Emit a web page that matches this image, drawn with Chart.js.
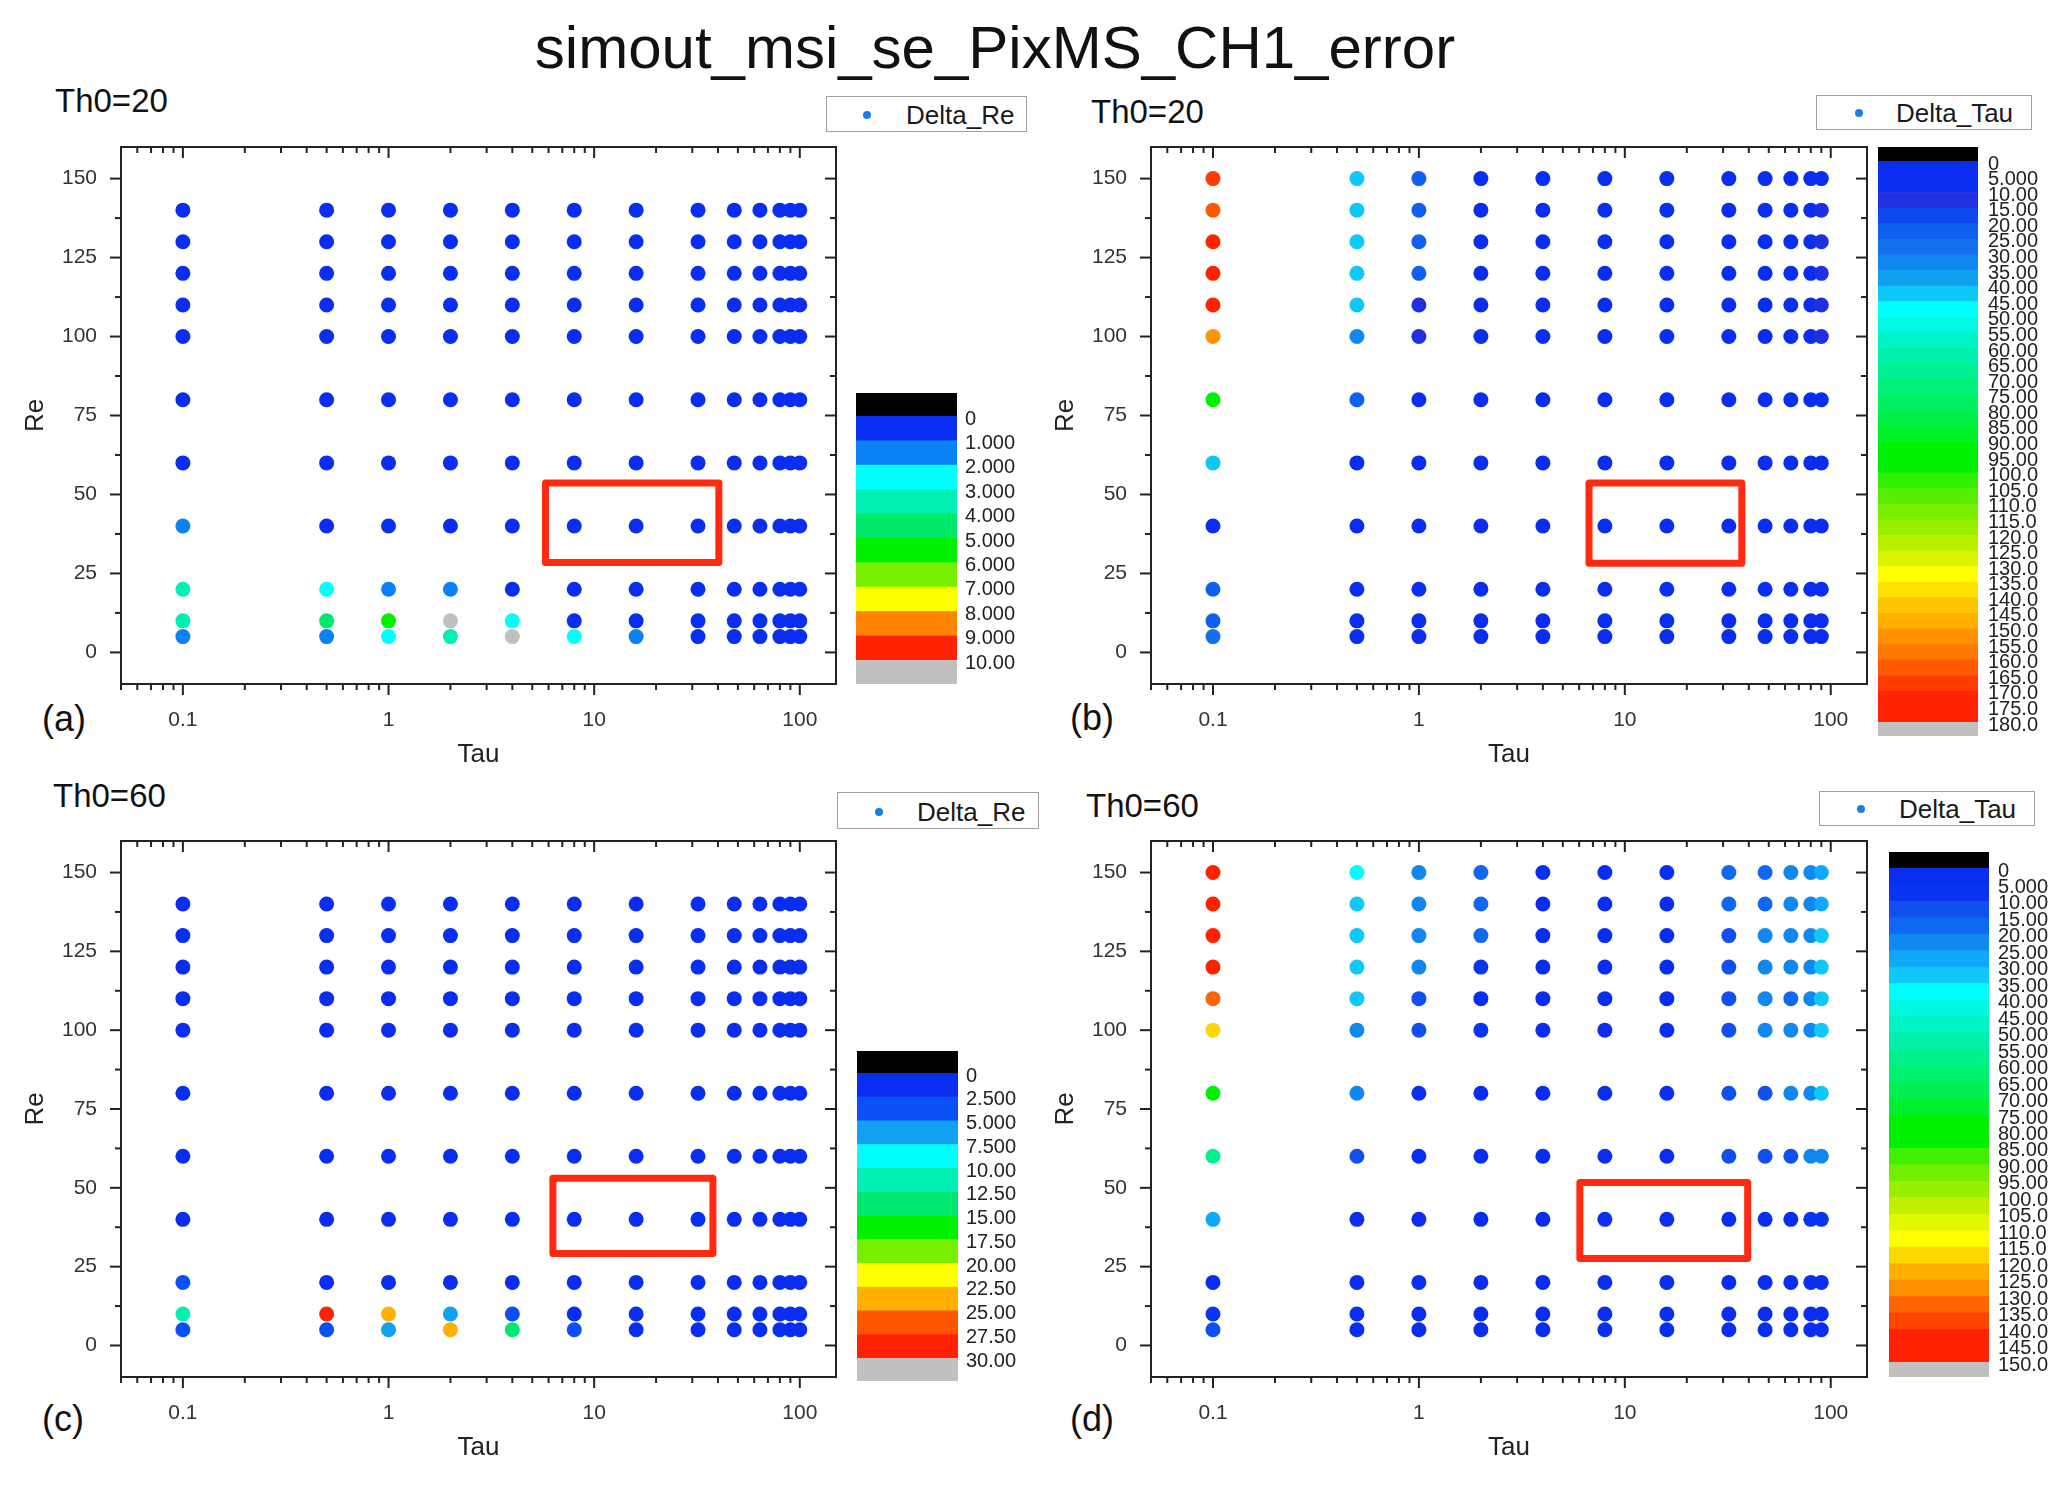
<!DOCTYPE html>
<html><head><meta charset="utf-8">
<script src="https://cdn.jsdelivr.net/npm/chart.js@4.4.0/dist/chart.umd.min.js"></script>
<style>
html,body{margin:0;padding:0;background:#fff;}
#root{position:relative;width:2067px;height:1488px;overflow:hidden;font-family:"Liberation Sans",Arial,sans-serif;color:#111;}
canvas{position:absolute;}
.t{position:absolute;white-space:nowrap;}
.legend{position:absolute;border:1.5px solid #a0a0a0;background:#fff;box-sizing:border-box;}
.legend .dot{position:absolute;width:8px;height:8px;border-radius:50%;background:#1a7fe8;}
.legend .lab{position:absolute;font-size:26px;line-height:26px;color:#1a1a1a;}
</style></head>
<body><div id="root">
<div class="t" style="left:0;width:1990px;text-align:center;top:18px;font-size:60px;line-height:60px;">simout_msi_se_PixMS_CH1_error</div>
<div class="t" style="left:55px;top:84px;font-size:33px;line-height:33px;">Th0=20</div>
<div class="t" style="left:1091px;top:95px;font-size:33px;line-height:33px;">Th0=20</div>
<div class="t" style="left:53px;top:779px;font-size:33px;line-height:33px;">Th0=60</div>
<div class="t" style="left:1086px;top:789px;font-size:33px;line-height:33px;">Th0=60</div>
<div class="t" style="left:42px;top:701px;font-size:36px;line-height:36px;">(a)</div>
<div class="t" style="left:1070px;top:700px;font-size:36px;line-height:36px;">(b)</div>
<div class="t" style="left:42px;top:1401px;font-size:36px;line-height:36px;">(c)</div>
<div class="t" style="left:1070px;top:1401px;font-size:36px;line-height:36px;">(d)</div>
<div class="legend" style="left:826px;top:96px;width:201px;height:36px;"><div class="dot" style="left:36px;top:14px;"></div><div class="lab" style="left:79px;top:5px;">Delta_Re</div></div>
<div class="legend" style="left:1816px;top:95px;width:216px;height:35px;"><div class="dot" style="left:38px;top:13px;"></div><div class="lab" style="left:79px;top:4px;">Delta_Tau</div></div>
<div class="legend" style="left:837px;top:792px;width:202px;height:37px;"><div class="dot" style="left:37px;top:15px;"></div><div class="lab" style="left:79px;top:6px;">Delta_Re</div></div>
<div class="legend" style="left:1819px;top:791px;width:216px;height:35px;"><div class="dot" style="left:37px;top:13px;"></div><div class="lab" style="left:79px;top:4px;">Delta_Tau</div></div>
<canvas id="cA"></canvas><canvas id="cB"></canvas><canvas id="cC"></canvas><canvas id="cD"></canvas>
</div>
<script>
// ---------------- data ----------------
const tauRe = [0.1, 0.5, 1, 2, 4, 8, 16, 32, 48, 64, 80, 90, 100];
const reRe = [5, 10, 20, 40, 60, 80, 100, 110, 120, 130, 140];
const tauTau = [0.1, 0.5, 1, 2, 4, 8, 16, 32, 48, 64, 80, 90];
const reTau = [5, 10, 20, 40, 60, 80, 100, 110, 120, 130, 140, 150];

// rows follow reRe, columns follow tauRe
const deltaReTh20 = [
  [1.5, 1.5, 2.5, 3.5, 11.0, 2.5, 1.5, 0.5, 0.5, 0.5, 0.5, 0.5, 0.5],
  [3.5, 4.5, 5.5, 11.0, 2.5, 0.5, 0.5, 0.5, 0.5, 0.5, 0.5, 0.5, 0.5],
  [3.5, 2.5, 1.5, 1.5, 0.5, 0.5, 0.5, 0.5, 0.5, 0.5, 0.5, 0.5, 0.5],
  [1.5, 0.5, 0.5, 0.5, 0.5, 0.5, 0.5, 0.5, 0.5, 0.5, 0.5, 0.5, 0.5],
  [0.5, 0.5, 0.5, 0.5, 0.5, 0.5, 0.5, 0.5, 0.5, 0.5, 0.5, 0.5, 0.5],
  [0.5, 0.5, 0.5, 0.5, 0.5, 0.5, 0.5, 0.5, 0.5, 0.5, 0.5, 0.5, 0.5],
  [0.5, 0.5, 0.5, 0.5, 0.5, 0.5, 0.5, 0.5, 0.5, 0.5, 0.5, 0.5, 0.5],
  [0.5, 0.5, 0.5, 0.5, 0.5, 0.5, 0.5, 0.5, 0.5, 0.5, 0.5, 0.5, 0.5],
  [0.5, 0.5, 0.5, 0.5, 0.5, 0.5, 0.5, 0.5, 0.5, 0.5, 0.5, 0.5, 0.5],
  [0.5, 0.5, 0.5, 0.5, 0.5, 0.5, 0.5, 0.5, 0.5, 0.5, 0.5, 0.5, 0.5],
  [0.5, 0.5, 0.5, 0.5, 0.5, 0.5, 0.5, 0.5, 0.5, 0.5, 0.5, 0.5, 0.5]
];
const deltaReTh60 = [
  [4, 4, 6, 23.5, 13, 4, 1.5, 1, 1, 1, 1, 1, 1],
  [11, 28.5, 23.5, 6, 4, 1, 1, 1, 1, 1, 1, 1, 1],
  [4, 1, 1, 1, 1, 1, 1, 1, 1, 1, 1, 1, 1],
  [1, 1, 1, 1, 1, 1, 1, 1, 1, 1, 1, 1, 1],
  [1, 1, 1, 1, 1, 1, 1, 1, 1, 1, 1, 1, 1],
  [1, 1, 1, 1, 1, 1, 1, 1, 1, 1, 1, 1, 1],
  [1, 1, 1, 1, 1, 1, 1, 1, 1, 1, 1, 1, 1],
  [1, 1, 1, 1, 1, 1, 1, 1, 1, 1, 1, 1, 1],
  [1, 1, 1, 1, 1, 1, 1, 1, 1, 1, 1, 1, 1],
  [1, 1, 1, 1, 1, 1, 1, 1, 1, 1, 1, 1, 1],
  [1, 1, 1, 1, 1, 1, 1, 1, 1, 1, 1, 1, 1]
];
// rows follow reTau, columns follow tauTau
const deltaTauTh20 = [
  [25, 2, 2, 2, 2, 2, 2, 2, 2, 2, 2, 2],
  [20, 2, 2, 2, 2, 2, 2, 2, 2, 2, 2, 2],
  [20, 2, 2, 2, 2, 2, 2, 2, 2, 2, 2, 2],
  [3, 2, 2, 2, 2, 2, 2, 2, 2, 2, 2, 2],
  [40, 2, 2, 2, 2, 2, 2, 2, 2, 2, 2, 3],
  [92, 22, 3, 2, 2, 2, 2, 2, 2, 2, 3, 5],
  [152, 32, 12, 2, 2, 2, 2, 2, 2, 2, 5, 12],
  [177, 42, 12, 2, 2, 2, 2, 2, 2, 2, 5, 12],
  [177, 40, 22, 2, 2, 2, 2, 2, 2, 2, 5, 12],
  [170, 42, 22, 2, 2, 2, 2, 2, 2, 2, 5, 12],
  [162, 42, 22, 2, 2, 2, 2, 2, 2, 2, 5, 12],
  [167, 42, 22, 2, 2, 2, 2, 2, 2, 2, 5, 8]
];
const deltaTauTh60 = [
  [12, 3, 3, 3, 3, 3, 3, 3, 3, 3, 3, 3],
  [8, 3, 3, 3, 3, 3, 3, 3, 3, 3, 3, 3],
  [3, 3, 3, 3, 3, 3, 3, 3, 3, 3, 3, 3],
  [27, 3, 3, 3, 3, 3, 3, 3, 3, 3, 8, 8],
  [57, 12, 3, 3, 3, 3, 3, 12, 13, 13, 22, 22],
  [82, 22, 3, 3, 3, 3, 3, 13, 13, 22, 22, 32],
  [117, 22, 12, 5, 3, 3, 3, 13, 22, 24, 22, 32],
  [132, 32, 12, 3, 3, 3, 3, 13, 22, 17, 22, 32],
  [142, 32, 22, 5, 3, 3, 3, 13, 22, 24, 22, 32],
  [142, 32, 22, 15, 3, 3, 3, 13, 22, 22, 22, 32],
  [142, 32, 22, 15, 3, 3, 3, 15, 15, 22, 24, 27],
  [142, 37, 22, 17, 3, 3, 3, 15, 17, 22, 24, 28]
];

const xTickLabels = [0.1, 1, 10, 100];
const yTickLabels = [0, 25, 50, 75, 100, 125, 150];

// colour-scale levels (colorbar tick labels)
const levelsRe20 = [0, 1, 2, 3, 4, 5, 6, 7, 8, 9, 10];
const levelsRe60 = [0, 2.5, 5, 7.5, 10, 12.5, 15, 17.5, 20, 22.5, 25, 27.5, 30];
const levelsTau20 = [0, 5, 10, 15, 20, 25, 30, 35, 40, 45, 50, 55, 60, 65, 70, 75, 80, 85, 90, 95, 100, 105, 110, 115, 120, 125, 130, 135, 140, 145, 150, 155, 160, 165, 170, 175, 180];
const levelsTau60 = [0, 5, 10, 15, 20, 25, 30, 35, 40, 45, 50, 55, 60, 65, 70, 75, 80, 85, 90, 95, 100, 105, 110, 115, 120, 125, 130, 135, 140, 145, 150];

const paletteRe20 = ['#0a2ef0','#0a82f5','#00ffff','#00f0b4','#00e86a','#00f000','#76f000','#ffff00','#ff8200','#ff2200'];
const paletteRe60 = ['#0a2ef0','#0a50f5','#12a0f0','#00ffff','#00f0b4','#00e870','#00f000','#76f000','#ffff00','#ffb000','#ff5500','#ff2200'];
const paletteTau20 = ['#0a2ef0','#0a2ef0','#2030e0','#1048f0','#1060f0','#1470ec','#1088f0','#10a0f0','#10c8f8','#00ffff',
  '#00f8e4','#00f4c8','#00f0ac','#00f094','#00f07c','#00f064','#00f048','#00f02c','#00f000','#00f000',
  '#30f000','#58f000','#78f000','#98f000','#b8f000','#d8f400','#ffff00','#ffe000','#ffc400','#ffb000',
  '#ff9400','#ff7800','#ff5a00','#ff3c00','#ff2400','#ff2200'];
const paletteTau60 = ['#0a2ef0','#0a34f0','#1050f0','#1068f0','#1088f0','#10a8f8','#10c8f8','#00ffff','#00f8e0','#00f4c4',
  '#00f0a8','#00f08c','#00f070','#00f054','#00f030','#00f000','#00f000','#40f000','#70f000','#98f000',
  '#c0f000','#e0f800','#ffff00','#ffd800','#ffb000','#ff9000','#ff6400','#ff4400','#ff2200','#ff2200'];
const belowColor = '#000000';
const aboveColor = '#c0c0c0';

// ---------------- helpers ----------------
Chart.defaults.font.family = "'Liberation Sans', Arial, sans-serif";

function colorFor(v, levels, palette) {
  if (v < levels[0]) return belowColor;
  for (let i = 0; i < palette.length; i++) if (v < levels[i + 1]) return palette[i];
  return aboveColor;
}
function buildPoints(taus, res, grid) {
  const pts = [];
  res.forEach((re, i) => taus.forEach((t, j) => pts.push({x: t, y: re, v: grid[i][j]})));
  return pts;
}
function fmtLevel(v) { return v === 0 ? '0' : v.toPrecision(4); }

const decor = {
  id: 'decor',
  afterDatasetsDraw(chart, args, o) {
    const ctx = chart.ctx, xs = chart.scales.x, ys = chart.scales.y;
    const x0 = xs.getPixelForValue(o.box[0]), x1 = xs.getPixelForValue(o.box[1]);
    const y0 = ys.getPixelForValue(o.box[2]), y1 = ys.getPixelForValue(o.box[3]);
    ctx.save();
    ctx.strokeStyle = '#ff2a10'; ctx.lineWidth = 7; ctx.lineJoin = 'round';
    ctx.strokeRect(x0, y1, x1 - x0, y0 - y1);
    ctx.restore();
  },
  afterDraw(chart, args, o) {
    const ctx = chart.ctx, a = chart.chartArea, xs = chart.scales.x, ys = chart.scales.y;
    ctx.save();
    ctx.strokeStyle = '#222'; ctx.lineWidth = 2;
    const line = (ax, ay, bx, by) => { ctx.beginPath(); ctx.moveTo(ax, ay); ctx.lineTo(bx, by); ctx.stroke(); };
    // y ticks (outside left, inside right)
    for (let k = 0; k <= 12; k++) {
      const v = k * 12.5, y = ys.getPixelForValue(v), L = (k % 2 === 0) ? 11 : 6;
      line(a.left - L, y, a.left, y);
      line(a.right, y, a.right - L, y);
    }
    // x ticks (outside bottom, inside top)
    for (let e = -2; e <= 2; e++) {
      for (let k = 1; k <= 9; k++) {
        const v = k * Math.pow(10, e);
        if (v < 0.0499 || v > 150.01) continue;
        const x = xs.getPixelForValue(v), L = (k === 1) ? 11 : 6;
        line(x, a.bottom, x, a.bottom + L);
        line(x, a.top, x, a.top + L);
      }
    }
    ctx.strokeRect(a.left, a.top, a.right - a.left, a.bottom - a.top);
    // colorbar
    const cb = o.cb, ox = o.offset[0], oy = o.offset[1];
    const bx = cb.x - ox, bw = cb.w;
    const n = o.palette.length;
    const t0 = cb.binsTop - oy, t1 = cb.binsBottom - oy, h = (t1 - t0) / n;
    ctx.fillStyle = belowColor; ctx.fillRect(bx, cb.blackTop - oy, bw, t0 - (cb.blackTop - oy));
    for (let i = 0; i < n; i++) { ctx.fillStyle = o.palette[i]; ctx.fillRect(bx, t0 + i * h, bw, h + 0.6); }
    ctx.fillStyle = aboveColor; ctx.fillRect(bx, t1, bw, cb.grayBottom - oy - t1);
    ctx.fillStyle = '#222';
    ctx.font = cb.font + "px 'Liberation Sans', Arial, sans-serif";
    ctx.textAlign = 'left'; ctx.textBaseline = 'middle';
    o.levels.forEach((lv, i) => ctx.fillText(fmtLevel(lv), cb.labelX - ox, t0 + i * h + 3));
    ctx.restore();
  }
};

function makePanel(id, canvasRect, plotRect, taus, res, grid, levels, palette, label, box, cb) {
  const cv = document.getElementById(id);
  const [cl, ct, cw, ch] = canvasRect;
  cv.width = cw; cv.height = ch;
  cv.style.left = cl + 'px'; cv.style.top = ct + 'px';
  cv.style.width = cw + 'px'; cv.style.height = ch + 'px';
  const yW = 101, xH = 87;
  const [pl, pt, pr, pb] = plotRect;
  const pad = {left: pl - cl - yW, top: pt - ct, right: cl + cw - pr, bottom: ct + ch - pb - xH};
  return new Chart(cv, {
    type: 'scatter',
    data: {datasets: [{
      label: label,
      data: buildPoints(taus, res, grid),
      pointRadius: 7.5, pointHoverRadius: 7.5, borderWidth: 0, pointBorderWidth: 0,
      backgroundColor: c => colorFor(c.raw ? c.raw.v : 0, levels, palette)
    }]},
    options: {
      responsive: false, animation: false, devicePixelRatio: 1,
      layout: {padding: pad, autoPadding: false},
      plugins: {
        legend: {display: false}, tooltip: {enabled: false},
        decor: {box: box, cb: cb, offset: [cl, ct], levels: levels, palette: palette}
      },
      scales: {
        x: {
          type: 'logarithmic', min: 0.05, max: 150,
          grid: {display: false}, border: {display: false},
          afterFit: s => { s.height = xH; s.paddingLeft = 0; s.paddingRight = 0; },
          ticks: {
            autoSkip: false, maxRotation: 0, minRotation: 0, padding: 16,
            color: '#333', font: {size: 21},
            callback: v => { const t = xTickLabels.find(q => Math.abs(Math.log10(q) - Math.log10(v)) < 1e-6); return t === undefined ? '' : String(t); }
          },
          title: {display: true, text: 'Tau', color: '#222', font: {size: 26}, padding: {top: 0, bottom: 1}}
        },
        y: {
          type: 'linear', min: -10, max: 160,
          grid: {display: false}, border: {display: false},
          afterFit: s => { s.width = yW; s.paddingTop = 0; s.paddingBottom = 0; },
          ticks: {
            stepSize: 25, includeBounds: false, padding: 16, color: '#333', font: {size: 21},
            callback: v => yTickLabels.includes(v) ? String(v) : ''
          },
          title: {display: true, text: 'Re', color: '#222', font: {size: 26}, padding: {top: 0, bottom: 0}}
        }
      }
    },
    plugins: [decor]
  });
}

makePanel('cA', [0, 130, 1034, 660], [121, 147, 836, 684], tauRe, reRe, deltaReTh20, levelsRe20, paletteRe20, 'Delta_Re',
  [5.8, 40.4, 28.5, 53.6], {x: 856, w: 101, blackTop: 393, binsTop: 416, binsBottom: 660, grayBottom: 684, labelX: 965, font: 20});
makePanel('cB', [1034, 130, 1033, 660], [1151, 147, 1867, 684], tauTau, reTau, deltaTauTh20, levelsTau20, paletteTau20, 'Delta_Tau',
  [6.7, 37, 28.2, 53.6], {x: 1878, w: 100, blackTop: 147, binsTop: 161, binsBottom: 722, grayBottom: 736, labelX: 1988, font: 20});
makePanel('cC', [0, 824, 1034, 660], [121, 841, 836, 1377], tauRe, reRe, deltaReTh60, levelsRe60, paletteRe60, 'Delta_Re',
  [6.3, 37.8, 29.2, 53], {x: 857, w: 101, blackTop: 1051, binsTop: 1073, binsBottom: 1358, grayBottom: 1381, labelX: 966, font: 20});
makePanel('cD', [1034, 824, 1033, 660], [1151, 841, 1867, 1377], tauTau, reTau, deltaTauTh60, levelsTau60, paletteTau60, 'Delta_Tau',
  [6.05, 39.5, 27.6, 51.7], {x: 1889, w: 100, blackTop: 852, binsTop: 868, binsBottom: 1362, grayBottom: 1377, labelX: 1998, font: 20});
</script>
</body></html>
